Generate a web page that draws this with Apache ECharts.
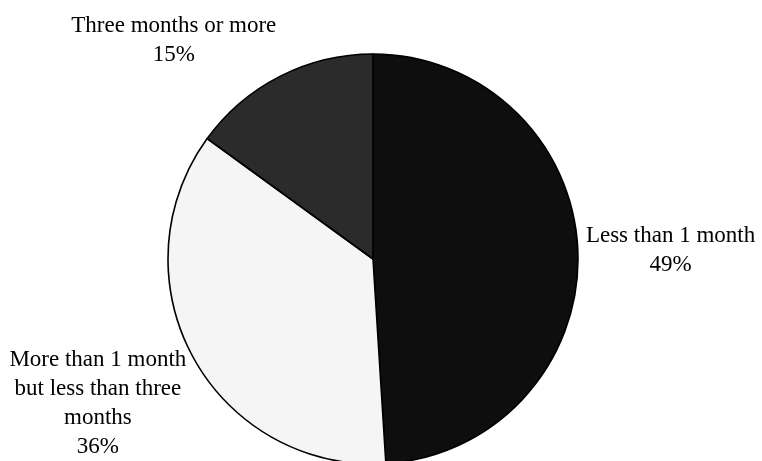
<!DOCTYPE html>
<html>
<head>
<meta charset="utf-8">
<script src="https://cdn.jsdelivr.net/npm/echarts@6/dist/echarts.min.js"></script>
<style>
html,body{margin:0;padding:0;background:#fff;}
#chart{width:762px;height:461px;}
</style>
</head>
<body>
<div id="chart"></div>
<script>
const categories = ['Less than 1 month', 'More than 1 month\nbut less than three\nmonths', 'Three months or more'];
const values = [49, 36, 15];
const sliceColors = ['#0e0e0e', '#f5f5f5', '#2b2b2b'];

const CX = 373, CY = 259, R = 205, GAP = 8;
const total = values.reduce((a, b) => a + b, 0);
const midAngles = [];
let cum = 0;
values.forEach(v => { midAngles.push(2 * Math.PI * (cum + v / 2) / total); cum += v; });

const chart = echarts.init(document.getElementById('chart'));
chart.setOption({
  backgroundColor: '#ffffff',
  animation: false,
  series: [{
    type: 'pie',
    center: [CX, CY],
    radius: [0, R],
    startAngle: 90,
    clockwise: true,
    avoidLabelOverlap: false,
    data: categories.map((name, i) => ({
      name: name,
      value: values[i],
      itemStyle: { color: sliceColors[i] }
    })),
    itemStyle: { borderColor: '#000', borderWidth: 1.6 },
    label: {
      show: true,
      position: 'outside',
      formatter: '{b}\n{c}%',
      fontFamily: '"Liberation Serif", "Times New Roman", serif',
      fontSize: 23,
      lineHeight: 29,
      color: '#000'
    },
    labelLine: { show: false },
    emphasis: { disabled: true },
    labelLayout: function (p) {
      const a = midAngles[p.dataIndex];
      const ux = Math.sin(a), uy = -Math.cos(a);
      const px = CX + ux * (R + GAP), py = CY + uy * (R + GAP);
      const w = p.labelRect.width, h = p.labelRect.height;
      const ky = Math.max(-1, Math.min(1, uy * 1.5));
      return {
        x: px + Math.sign(ux) * w / 2,
        y: py + ky * h / 2,
        align: 'center',
        verticalAlign: 'middle'
      };
    }
  }]
});
</script>
</body>
</html>
